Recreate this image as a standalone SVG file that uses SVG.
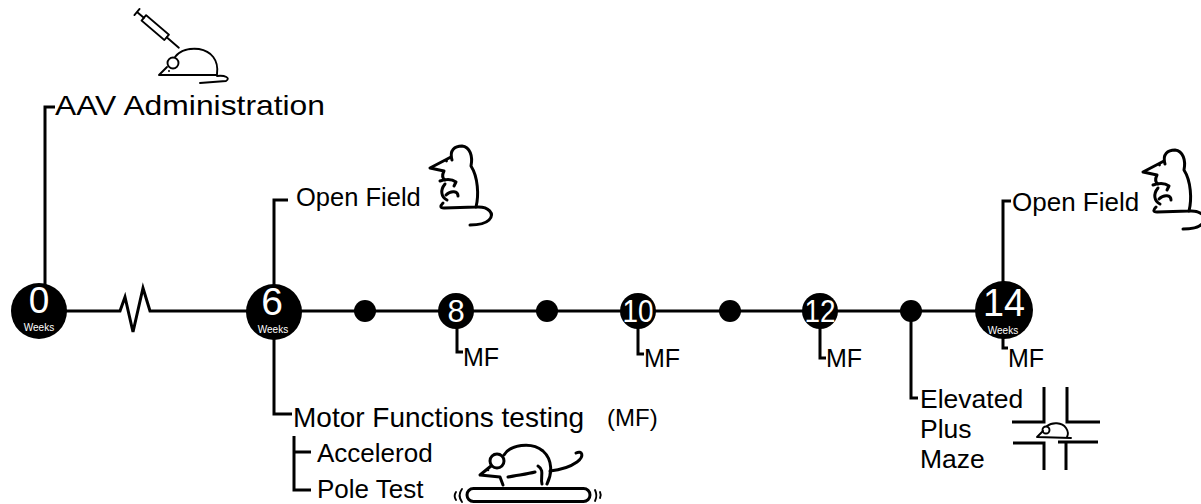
<svg xmlns="http://www.w3.org/2000/svg" width="1201" height="504" viewBox="0 0 1201 504">
  <style>
    .ln { stroke: #000; stroke-width: 3; fill: none; stroke-linejoin: miter; }
    .ic { stroke: #000; stroke-width: 3; fill: none; stroke-linecap: round; stroke-linejoin: round; }
    .ict { stroke: #000; stroke-width: 1.9; fill: none; stroke-linecap: round; stroke-linejoin: round; }
    .node { fill: #000; }
    .t { font-family: "Liberation Sans", Arial, sans-serif; fill: #000; }
    .w { font-family: "Liberation Sans", Arial, sans-serif; fill: #fff; text-anchor: middle; }
  </style>
  <defs>
    <!-- seated mouse drawing -->
    <g id="sitMouse">
      <path class="ic" d="M452,160 C449,150 455,146 462,146 C470,147 473,156 471,166 C478,177 479,195 476,207"/>
      <path class="ic" d="M451,157 L430,168 L444,171 C442,175 442,178 445,180"/>
      <path class="ic" d="M440,181 C446,179 452,179 456,182 L454,186"/>
      <path class="ic" d="M445,184 C440,190 441,197 447,200"/>
      <path class="ic" d="M446,195 C451,190 458,191 458,196"/>
      <path class="ic" d="M443,203 C440,206 440,208 444,208 L476,207 C489,206 495,214 489,220 C485,224 477,225 470,225"/>
      <circle cx="446.5" cy="161" r="1.4" fill="#000"/>
    </g>
  </defs>

  <g id="connectors">
    <!-- main timeline with break -->
    <path class="ln" d="M39,311 L120,311 L125,297 L133,332 L143,288 L150,311 L1004,311"/>
    <!-- week 0 -->
    <path class="ln" d="M45,290 L45,107 L55,107"/>
    <!-- week 6 -->
    <path class="ln" d="M274,290 L274,200 L288,200"/>
    <path class="ln" d="M274,330 L274,414 L292,414"/>
    <path class="ln" d="M294,436 L294,490 L311,490 M294,452 L311,452"/>
    <!-- weeks 8 / 10 / 12 -->
    <path class="ln" d="M457,326 L457,352 L463,352"/>
    <path class="ln" d="M638,326 L638,354 L644,354"/>
    <path class="ln" d="M820,326 L820,358 L826,358"/>
    <!-- elevated plus maze -->
    <path class="ln" d="M911,311 L911,398 L918,398"/>
    <!-- week 14 -->
    <path class="ln" d="M1003,285 L1003,201 L1011,201"/>
    <path class="ln" d="M1003,335 L1003,348 L1008,348"/>
  </g>

  <g id="node-w0">
    <circle class="node" cx="39" cy="311" r="28"/>
    <text class="w" x="39" y="313" font-size="37">0</text>
    <text class="w" x="39" y="331" font-size="10">Weeks</text>
  </g>
  <g id="node-w6">
    <circle class="node" cx="274" cy="312" r="28"/>
    <text class="w" x="272" y="315" font-size="39">6</text>
    <text class="w" x="273" y="333" font-size="10">Weeks</text>
  </g>
  <g id="node-d1"><circle class="node" cx="365" cy="311" r="11"/></g>
  <g id="node-w8">
    <circle class="node" cx="456" cy="311" r="18"/>
    <text class="w" x="456" y="322" font-size="31">8</text>
  </g>
  <g id="node-d2"><circle class="node" cx="547" cy="311" r="11"/></g>
  <g id="node-w10">
    <circle class="node" cx="638" cy="311" r="18"/>
    <text class="w" x="638" y="322" font-size="31" textLength="31" lengthAdjust="spacingAndGlyphs">10</text>
  </g>
  <g id="node-d3"><circle class="node" cx="730" cy="311" r="11"/></g>
  <g id="node-w12">
    <circle class="node" cx="820" cy="311" r="18"/>
    <text class="w" x="820" y="322" font-size="31" textLength="31" lengthAdjust="spacingAndGlyphs">12</text>
  </g>
  <g id="node-d4"><circle class="node" cx="911" cy="311" r="11"/></g>
  <g id="node-w14">
    <circle class="node" cx="1004" cy="310" r="29"/>
    <text class="w" x="1004" y="316" font-size="39" textLength="42" lengthAdjust="spacingAndGlyphs">14</text>
    <text class="w" x="1003" y="334" font-size="10">Weeks</text>
  </g>

  <g id="label-aav">
    <text class="t" x="55" y="115" font-size="28" textLength="270" lengthAdjust="spacingAndGlyphs">AAV Administration</text>
    <!-- syringe -->
    <g transform="translate(137,12) rotate(40.5)">
      <path class="ict" d="M0,-4 L0,4 M0,0 L9,0 M39,0 L55,0"/>
      <rect class="ict" x="9" y="-3.5" width="30" height="7"/>
    </g>
    <!-- lying mouse -->
    <path class="ict" d="M159,75 L217,75 M159,75 L167,67"/>
    <path class="ict" d="M175,57 C180,50 190,48 199,49 C211,51 219,60 217,74"/>
    <path class="ict" d="M217,76 C225,75 231,78 226,81 L200,83"/>
    <circle class="ict" cx="173" cy="63" r="5.5"/>
    <circle cx="169" cy="71" r="1" fill="#000"/>
  </g>

  <g id="label-open-field-6">
    <text class="t" x="296" y="206" font-size="25.5">Open Field</text>
    <use href="#sitMouse"/>
  </g>

  <g id="label-motor">
    <text class="t" x="293" y="427" font-size="28">Motor Functions testing</text>
    <text class="t" x="607" y="426" font-size="24">(MF)</text>
    <text class="t" x="317" y="462" font-size="26">Accelerod</text>
    <text class="t" x="317" y="498" font-size="26">Pole Test</text>
    <!-- rotarod mouse -->
    <rect class="ic" x="467" y="488.5" width="123" height="13" rx="6.5"/>
    <path class="ict" d="M462,489 C459,493 459,498 462,502 M456,492 C454,495 454,497 456,500"/>
    <path class="ict" d="M595,490 C597,494 597,497 595,501 M600,492 C601,494 601,496 600,498"/>
    <circle class="ic" cx="497" cy="461" r="7"/>
    <path class="ic" d="M504,455 C510,445 531,441 543,451 C553,460 552,474 547,484"/>
    <path class="ic" d="M491,466 L480,475 L500,477 L503,485"/>
    <path class="ic" d="M508,477 C518,475 528,474 535,472"/>
    <path class="ic" d="M538,466 C545,470 540,478 542,484"/>
    <path class="ic" d="M550,471 C560,470 570,467 577,462 C585,456 582,450 576,453"/>
    <circle cx="488" cy="470" r="1.3" fill="#000"/>
  </g>

  <g id="label-mf-8"><text class="t" x="463" y="366" font-size="25">MF</text></g>
  <g id="label-mf-10"><text class="t" x="644" y="367" font-size="25">MF</text></g>
  <g id="label-mf-12"><text class="t" x="826" y="367" font-size="25">MF</text></g>
  <g id="label-mf-14"><text class="t" x="1008" y="367" font-size="25">MF</text></g>

  <g id="label-epm">
    <text class="t" x="920" y="408" font-size="26.5">Elevated</text>
    <text class="t" x="920" y="438" font-size="26.5">Plus</text>
    <text class="t" x="920" y="468" font-size="26.5">Maze</text>
    <!-- plus maze arms -->
    <path class="ln" d="M1044,387 L1044,422 L1012,422"/>
    <path class="ln" d="M1067,387 L1067,422 L1100,422"/>
    <path class="ln" d="M1013,443 L1044,443 L1044,470"/>
    <path class="ln" d="M1058,442 L1098,442 M1066,442 L1066,470"/>
    <!-- small mouse on the maze -->
    <path class="ict" d="M1037,437 L1071,438 M1037,437 L1043,431"/>
    <path class="ict" d="M1047,426 C1052,422 1062,422 1066,428 C1068,431 1068,435 1067,437"/>
    <circle class="ict" cx="1046" cy="430" r="3.5"/>
  </g>

  <g id="label-open-field-14">
    <text class="t" x="1012" y="211" font-size="26">Open Field</text>
    <use href="#sitMouse" transform="translate(713,4)"/>
  </g>
</svg>
